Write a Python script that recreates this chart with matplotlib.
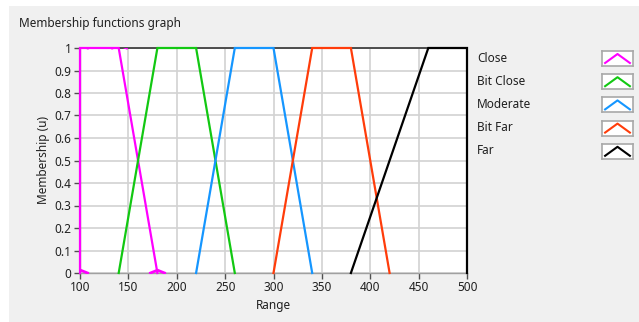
import numpy as np
import matplotlib.pyplot as plt
from matplotlib.patches import Rectangle
from matplotlib.path import Path

plt.rcParams['font.family'] = ['Noto Sans', 'DejaVu Sans']
plt.rcParams['font.size'] = 8.5

# membership functions (range value, membership)
close_x = [100, 100, 140, 180]
close_y = [0, 1, 1, 0]
bitclose_x = [140, 180, 220, 260]
bitclose_y = [0, 1, 1, 0]
moderate_x = [220, 260, 300, 340]
moderate_y = [0, 1, 1, 0]
bitfar_x = [300, 340, 380, 420]
bitfar_y = [0, 1, 1, 0]
far_x = [380, 460, 500, 500]
far_y = [0, 1, 1, 0]

labels = ['Close', 'Bit Close', 'Moderate', 'Bit Far', 'Far']
colors = ['#ff00ff', '#12c812', '#1596ff', '#ff3c0a', '#000000']
series = [(close_x, close_y), (bitclose_x, bitclose_y), (moderate_x, moderate_y),
          (bitfar_x, bitfar_y), (far_x, far_y)]

W, H = 639, 322
fig = plt.figure(figsize=(W / 100, H / 100), dpi=100)
fig.patch.set_facecolor('white')
fig.patches.append(Rectangle((9 / W, 0), 1, 1 - 6 / H, transform=fig.transFigure,
                             facecolor='#f0f0f0', edgecolor='none', zorder=-10))

fig.text(19 / W, 1 - 23 / H, 'Membership functions graph', va='center', ha='left',
         color='#202020')

ax = fig.add_axes([80 / W, 1 - 273 / H, 387 / W, 225 / H])
ax.set_facecolor('white')

# little caret marker like the selected-plot points
caret = Path([(-1, 0), (0, 0.4), (1, 0)], [Path.MOVETO, Path.LINETO, Path.LINETO])

for (xs, ys), c, lab in zip(series, colors, labels):
    ax.plot(xs, ys, color=c, lw=1.6, solid_joinstyle='miter', clip_on=False, zorder=3)
ax.plot(close_x, close_y, ls='none', marker=caret, ms=12, mec=colors[0], mew=2,
        mfc='none', zorder=4)

ax.set_xlim(100, 500)
ax.set_ylim(0, 1)
ax.set_xticks(np.arange(100, 501, 50))
ax.set_yticks(np.arange(0, 1.01, 0.1))
ax.set_yticklabels(['0', '0.1', '0.2', '0.3', '0.4', '0.5', '0.6', '0.7', '0.8', '0.9', '1'])
ax.grid(True, color='#d2d2d2', lw=1.2)
ax.set_axisbelow(True)
ax.tick_params(direction='out', length=4, width=1, color='#505050', labelcolor='#202020',
               pad=2)
for s in ['top', 'right']:
    ax.spines[s].set_color('#404040')
    ax.spines[s].set_linewidth(1.3)
for s in ['left', 'bottom']:
    ax.spines[s].set_color('#a0a0a0')
    ax.spines[s].set_linewidth(1.0)

ax.set_xlabel('Range', color='#202020', labelpad=3)
ax.set_ylabel('Membership (u)', color='#202020', labelpad=3)

# legend: names on the left, swatch boxes at the far right
for i, (lab, c) in enumerate(zip(labels, colors)):
    yc = 58 + i * 23.2
    fig.text(477 / W, 1 - yc / H, lab, va='center', ha='left', color='#202020')
    sw = fig.add_axes([602 / W, 1 - (yc + 8) / H, 31 / W, 15 / H])
    sw.set_facecolor('white')
    sw.plot([0.1, 0.5, 0.9], [0.2, 0.8, 0.2], color=c, lw=1.5)
    sw.set_xlim(0, 1)
    sw.set_ylim(0, 1)
    sw.set_xticks([])
    sw.set_yticks([])
    for s in sw.spines.values():
        s.set_color('#a8a8a8')
        s.set_linewidth(1.2)

fig.savefig('out.png', dpi=100)
